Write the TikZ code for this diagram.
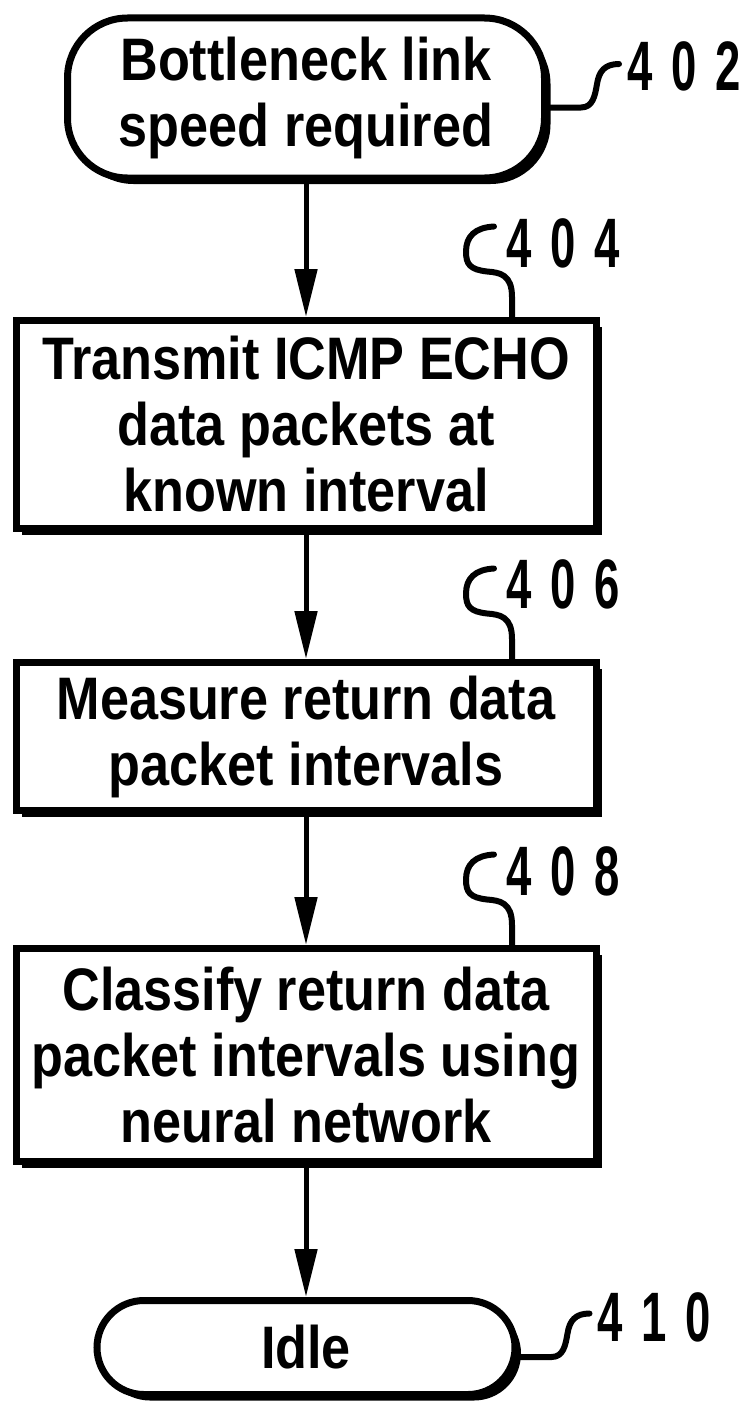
\documentclass[tikz,border=0pt]{standalone}
\usepackage{fontspec}
\newfontfamily\diagfont{Liberation Sans}[FakeStretch=0.87]
\newfontfamily\labfont{Liberation Sans}[FakeStretch=0.65]
\usetikzlibrary{arrows.meta,shadows}
\begin{document}
\begin{tikzpicture}[x=1pt,y=-1pt,
  every node/.style={inner sep=0pt},
  txt/.style={font=\diagfont\bfseries\fontsize{60}{66}\selectfont, align=center},
  shadowed/.style={drop shadow={shadow xshift=6pt, shadow yshift=-6pt, fill=black, opacity=1}},
  stepbox/.style={txt, draw, line width=7pt, fill=white, minimum width=580pt, shadowed},
  termbox/.style={txt, draw, line width=7pt, fill=white, rounded corners=60pt, shadowed},
  reflab/.style={font=\labfont\bfseries\fontsize{70}{70}\selectfont},
  leader/.style={line width=6pt, line cap=round},
  flow/.style={line width=5pt, -{Triangle[length=48pt,width=22pt]}},
  boxhook/.pic={\draw[leader] (206,0) -- (206,-20) .. controls (206,-42.5) and (194,-44.5) .. (181,-45.5)
      .. controls (164,-47.5) and (160,-52.5) .. (160,-65.5) .. controls (160,-80.5) and (169,-89.5) .. (188,-90.5);},
  termhook/.pic={\draw[leader] (0,9.5) -- (33,9.5) .. controls (45,9.5) and (47,-2.5) .. (49,-14)
      .. controls (51,-27) and (57,-34) .. (71,-34);}
]
\useasboundingbox (0,0) rectangle (746,1405);

\node[termbox, minimum width=477pt, minimum height=160pt] (t402) at (306,98) {Bottleneck link\\speed required};
\node[stepbox, minimum height=208pt] (b404) at (306,424.5) {Transmit ICMP ECHO\\data packets at\\known interval};
\node[stepbox, minimum height=148pt] (b406) at (306,736.5) {Measure return data\\packet intervals};
\node[stepbox, minimum height=213pt] (b408) at (306,1055) {Classify return data\\packet intervals using\\neural network};
\node[termbox, rounded corners=47pt, minimum width=418pt, minimum height=94pt] (t410) at (306,1347.5) {Idle};

\node[reflab] (l402) at (684,66) {4\hspace{19pt}0\hspace{19pt}2};
\node[reflab] (l404) at (563,243) {4\hspace{19pt}0\hspace{19pt}4};
\node[reflab] (l406) at (563,584) {4\hspace{19pt}0\hspace{19pt}6};
\node[reflab] (l408) at (563,871) {4\hspace{19pt}0\hspace{19pt}8};
\node[reflab] (l410) at (654,1317) {4\hspace{19pt}1\hspace{19pt}0};

\draw[flow] (t402) -- (b404);
\draw[flow] (b404) -- (b406);
\draw[flow] (b406) -- (b408);
\draw[flow] (b408) -- (t410);

\pic at (t402.east) {termhook};
\pic at (b404.north) {boxhook};
\pic at (b406.north) {boxhook};
\pic at (b408.north) {boxhook};
\pic at (t410.east) {termhook};
\end{tikzpicture}
\end{document}
